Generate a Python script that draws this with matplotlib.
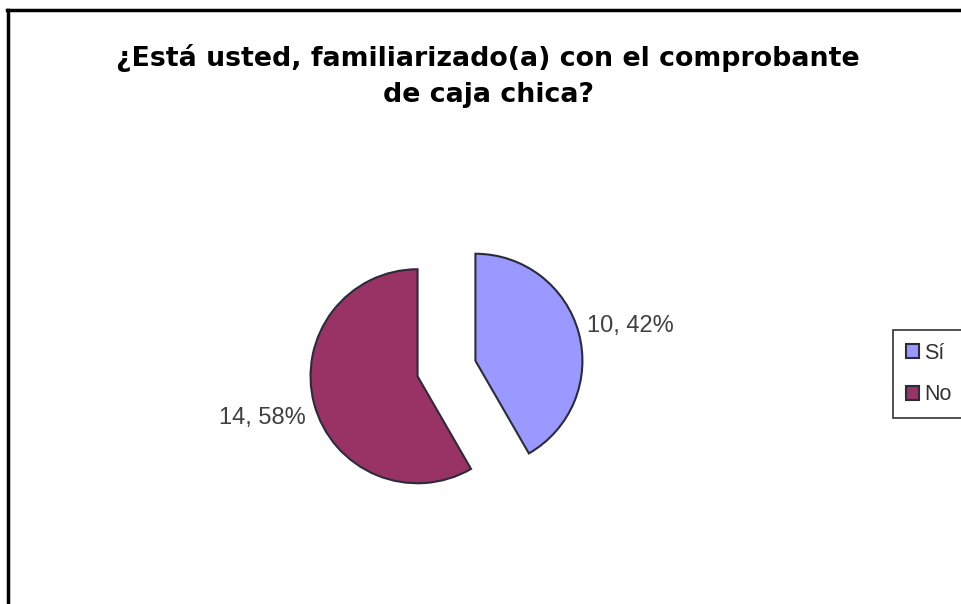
import matplotlib.pyplot as plt
from matplotlib.lines import Line2D

# ---------- DATA ----------
categories = ["Sí", "No"]
counts = [10, 14]
percents = [42, 58]
colors = ["#9999FF", "#993366"]
title = "¿Está usted, familiarizado(a) con el comprobante\nde caja chica?"

plt.rcParams["font.family"] = ["Liberation Sans", "DejaVu Sans"]

# ---------- FIGURE ----------
fig = plt.figure(figsize=(9.61, 6.04), dpi=100)

# pie axes: center ~ (446, 368) px, radius ~107 px, limits (-2, 2)
ax = fig.add_axes([0.2419, 0.0356, 0.4454, 0.7086])

labels = [f"{c}, {p}%" for c, p in zip(counts, percents)]
wedges, texts = ax.pie(
    counts,
    labels=labels,
    colors=colors,
    startangle=90,
    counterclock=False,
    explode=[0.28, 0.28],
    labeldistance=1.5,
    radius=1,
    wedgeprops=dict(edgecolor="#2b2b3a", linewidth=1.5),
    textprops=dict(fontsize=17, color="#404040"),
    frame=True,
)
ax.axis("off")
ax.set_xlim(-2, 2)
ax.set_ylim(-2, 2)
for t in texts:
    t.set_ha("center")
    t.set_va("center")
# the right label sits a little lower in the original
texts[0].set_y(texts[0].get_position()[1] - 0.06)

# ---------- TITLE ----------
fig.text(0.508, 0.875, title, ha="center", va="center", fontsize=19.3,
         fontweight="bold", linespacing=1.5, family="DejaVu Sans")

# ---------- LEGEND ----------
leg = fig.legend(
    wedges, categories,
    loc="upper left",
    bbox_to_anchor=(893 / 961, 1 - 330 / 604),
    fontsize=15.5,
    frameon=True,
    fancybox=False,
    handlelength=0.6,
    handleheight=0.6,
    handletextpad=0.25,
    labelspacing=0.95,
    borderpad=0.6,
    borderaxespad=0,
)
leg.get_frame().set_edgecolor("black")
leg.get_frame().set_linewidth(1.2)
for t in leg.get_texts():
    t.set_color("#333333")

# ---------- BORDER ----------
fig.add_artist(Line2D([7 / 961, 1.0], [1 - 10 / 604, 1 - 10 / 604],
                      transform=fig.transFigure, color="black", linewidth=2.5))
fig.add_artist(Line2D([8 / 961, 8 / 961], [1 - 10 / 604, 0.0],
                      transform=fig.transFigure, color="black", linewidth=2.5))

fig.savefig("out.png", dpi=100)
